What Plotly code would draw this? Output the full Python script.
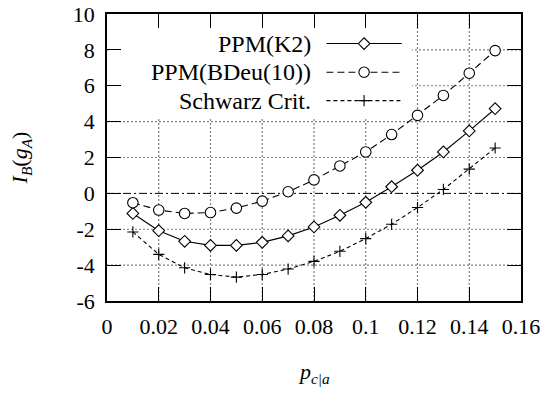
import plotly.graph_objects as go

# ---- data ----
p_ca = [0.01, 0.02, 0.03, 0.04, 0.05, 0.06, 0.07, 0.08, 0.09, 0.10, 0.11, 0.12, 0.13, 0.14, 0.15]
ppm_k2 = [-1.12, -2.08, -2.67, -2.90, -2.90, -2.73, -2.37, -1.87, -1.22, -0.50, 0.37, 1.29, 2.31, 3.48, 4.72]
ppm_bdeu = [-0.52, -0.93, -1.12, -1.07, -0.82, -0.43, 0.09, 0.75, 1.53, 2.31, 3.28, 4.35, 5.46, 6.70, 7.96]
schwarz = [-2.15, -3.40, -4.15, -4.52, -4.67, -4.52, -4.22, -3.79, -3.23, -2.52, -1.72, -0.79, 0.22, 1.35, 2.53]

series_names = ["PPM(K2)", "PPM(BDeu(10))", "Schwarz Crit."]

x_tickvals = [0, 0.02, 0.04, 0.06, 0.08, 0.10, 0.12, 0.14, 0.16]
x_ticktext = ["0", "0.02", "0.04", "0.06", "0.08", "0.1", "0.12", "0.14", "0.16"]
y_tickvals = [-6, -4, -2, 0, 2, 4, 6, 8, 10]
y_ticktext = ["-6", "-4", "-2", "0", "2", "4", "6", "8", "10"]

FONT = "Liberation Serif"
FS = 22

styles = [
    dict(dash="solid", symbol="diamond", size=9, fill="white"),
    dict(dash="7px,4px", symbol="circle", size=10.5, fill="white"),
    dict(dash="4px,3px", symbol="cross-thin-open", size=8, fill="black"),
]

fig = go.Figure()
for name, ys, st in zip(series_names, [ppm_k2, ppm_bdeu, schwarz], styles):
    fig.add_trace(go.Scatter(
        x=p_ca, y=ys, name=name, mode="lines+markers",
        line=dict(color="black", width=1.1, dash=st["dash"]),
        marker=dict(symbol=st["symbol"], size=st["size"], color=st["fill"],
                    line=dict(color="black", width=1.1)),
        showlegend=False,
    ))

shapes = []
GRID = dict(color="#7f7f7f", width=1.2, dash="2px,2px")
# dotted grid at the inner tick positions (y = 0 drawn as the dash-dot zero axis)
for xv in x_tickvals[1:-1]:
    shapes.append(dict(type="line", xref="x", yref="paper", x0=xv, x1=xv, y0=0, y1=1,
                       line=GRID, layer="between"))
for yv in y_tickvals[1:-1]:
    if yv == 0:
        continue
    shapes.append(dict(type="line", xref="paper", yref="y", x0=0, x1=1, y0=yv, y1=yv,
                       line=GRID, layer="between"))
# white legend box (covers the grid)
shapes.append(dict(type="rect", xref="paper", yref="paper", x0=0.003, x1=0.737, y0=0.638, y1=0.997,
                   fillcolor="white", line=dict(width=0), layer="between"))
# dash-dot zero axis
shapes.append(dict(type="line", xref="paper", yref="y", x0=0, x1=1, y0=0, y1=0,
                   line=dict(color="black", width=1, dash="8px,3px,2px,3px"), layer="between"))

annotations = []
rows_y = [0.897, 0.797, 0.698]
line_x0, line_x1, mark_x, text_x = 0.530, 0.712, 0.621, 0.497
for name, ry, st in zip(series_names, rows_y, styles):
    shapes.append(dict(type="line", xref="paper", yref="paper", x0=line_x0, x1=line_x1, y0=ry, y1=ry,
                       line=dict(color="black", width=1.1, dash=st["dash"])))
    if st["symbol"] == "diamond":
        shapes.append(dict(type="path", xref="paper", yref="paper", xsizemode="pixel", ysizemode="pixel",
                           xanchor=mark_x, yanchor=ry, path="M-5.8,0L0,5.8L5.8,0L0,-5.8Z",
                           fillcolor="white", line=dict(color="black", width=1.1)))
    elif st["symbol"] == "circle":
        shapes.append(dict(type="circle", xref="paper", yref="paper", xsizemode="pixel", ysizemode="pixel",
                           xanchor=mark_x, yanchor=ry, x0=-5.2, x1=5.2, y0=-5.2, y1=5.2,
                           fillcolor="white", line=dict(color="black", width=1.1)))
    else:
        shapes.append(dict(type="path", xref="paper", yref="paper", xsizemode="pixel", ysizemode="pixel",
                           xanchor=mark_x, yanchor=ry, path="M-5.6,0H5.6M0,-5.6V5.6",
                           line=dict(color="black", width=1.1)))
    annotations.append(dict(text=name, xref="paper", yref="paper", x=text_x, y=ry,
                            xanchor="right", yanchor="middle", showarrow=False,
                            font=dict(family=FONT, size=24, color="black")))

annotations.append(dict(text="<i>p</i><sub><i>c|a</i></sub>", xref="paper", yref="paper",
                        x=0.5, y=-0.252, xanchor="center", yanchor="middle", showarrow=False,
                        font=dict(family=FONT, size=FS, color="black")))
annotations.append(dict(text="<i>I</i><sub><i>B</i></sub>(<i>g</i><sub><i>A</i></sub>)", xref="paper", yref="paper",
                        x=-0.208, y=0.5, xanchor="center", yanchor="middle", showarrow=False, textangle=-90,
                        font=dict(family=FONT, size=FS, color="black")))

axis_common = dict(showline=True, linecolor="black", linewidth=1.5, mirror="ticks",
                   ticks="inside", ticklen=14, tickwidth=1, tickcolor="black",
                   showgrid=False, zeroline=False, automargin=False,
                   tickfont=dict(family=FONT, size=FS, color="black"))

fig.update_xaxes(range=[0, 0.16], tickvals=x_tickvals, ticktext=x_ticktext,
                 ticklabelstandoff=5, **axis_common)
fig.update_yaxes(range=[-6, 10], tickvals=y_tickvals, ticktext=y_ticktext,
                 ticklabelstandoff=6, **axis_common)

fig.update_layout(width=545, height=393, margin=dict(l=107, r=24, t=14, b=92, autoexpand=False),
                  plot_bgcolor="white", paper_bgcolor="white",
                  font=dict(family=FONT, size=FS, color="black"),
                  shapes=shapes, annotations=annotations, showlegend=False)

fig.write_html("out.html", config={"displayModeBar": False},
               post_script="document.body.style.margin='0';document.body.style.padding='0';document.body.style.overflow='hidden';")
